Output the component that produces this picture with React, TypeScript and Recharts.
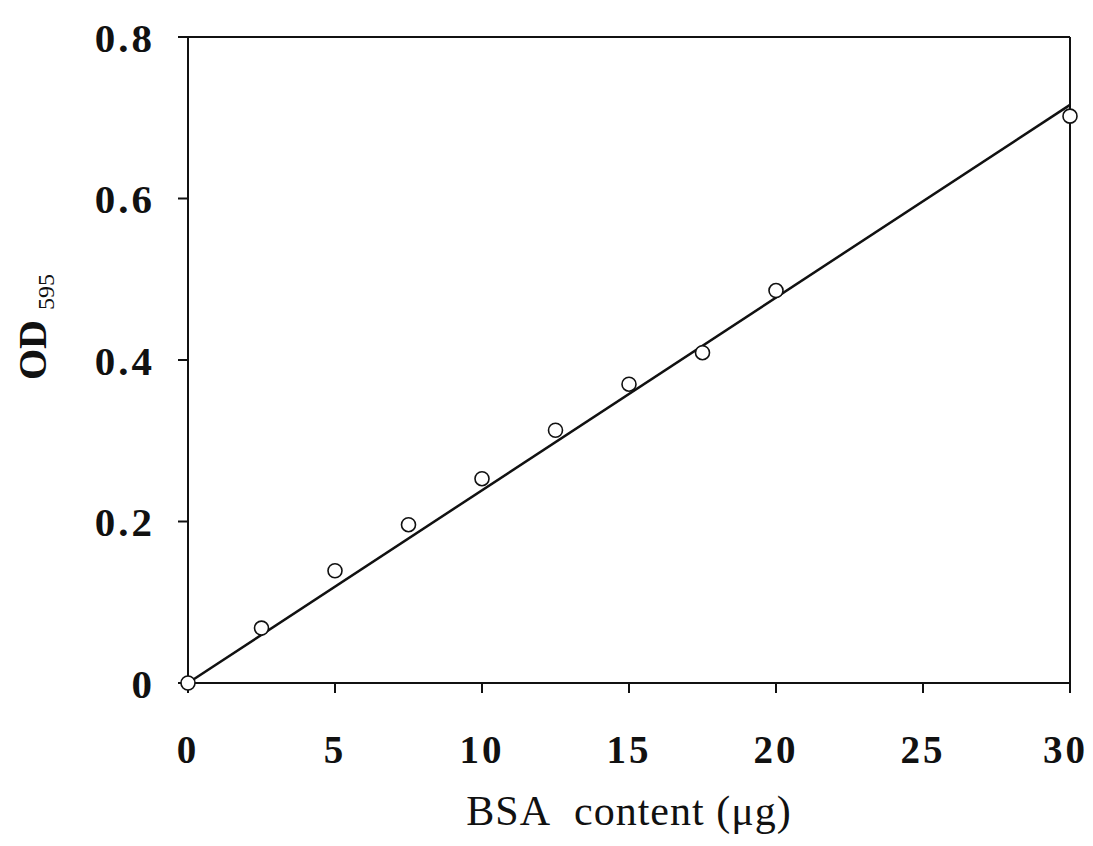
import { ComposedChart, Line, Scatter, XAxis, YAxis, ReferenceLine, Label } from "recharts";

// BSA standard curve (Bradford assay)
const bsaUg = [0, 2.5, 5, 7.5, 10, 12.5, 15, 17.5, 20, 30];
const od595 = [0, 0.068, 0.139, 0.196, 0.253, 0.313, 0.37, 0.409, 0.486, 0.702];

// fitted straight line
const fitX = [0, 30];
const fitY = [0, 0.716];

const xTicks = [0, 5, 10, 15, 20, 25, 30];
const yTicks = [0, 0.2, 0.4, 0.6, 0.8];

const points = bsaUg.map((x, i) => ({ x, y: od595[i] }));
const fitLine = fitX.map((x, i) => ({ x, y: fitY[i] }));

const FONT = "'Liberation Serif', 'Times New Roman', serif";

const OpenCircle = (props: any) => (
  <circle cx={props.cx} cy={props.cy} r={7} fill="#fff" stroke="#111" strokeWidth={1.6} />
);

const YLabel = ({ viewBox }: any) => {
  const x = viewBox.x + 38;
  const y = viewBox.y + viewBox.height / 2 - 33;
  return (
    <text
      x={x}
      y={y}
      transform={`rotate(-90, ${x}, ${y})`}
      textAnchor="middle"
      fontFamily={FONT}
      fontWeight="bold"
      fontSize={40}
      fill="#111"
    >
      OD
      <tspan dx={10} dy={8} fontSize={24} fontWeight="normal">
        595
      </tspan>
    </text>
  );
};

export default function App() {
  return (
    <div style={{ width: 1080, height: 830, background: "#fff" }}>
      <ComposedChart width={1080} height={830} margin={{ top: 29, right: 18, bottom: 0, left: 0 }}>
        <XAxis
          type="number"
          dataKey="x"
          domain={[0, 30]}
          ticks={xTicks}
          height={155}
          axisLine={{ stroke: "#111", strokeWidth: 2 }}
          tickLine={{ stroke: "#111", strokeWidth: 2 }}
          tickSize={10}
          tickMargin={42}
          tick={{ fill: "#111", fontFamily: FONT, fontWeight: "bold", fontSize: 39, letterSpacing: 3 }}
        >
          <Label
            value={"BSA\u00a0 content (μg)"}
            position="insideBottom"
            offset={13}
            style={{ fill: "#111", fontFamily: FONT, fontSize: 42, letterSpacing: 1 }}
          />
        </XAxis>
        <YAxis
          type="number"
          dataKey="y"
          domain={[0, 0.8]}
          ticks={yTicks}
          width={180}
          axisLine={{ stroke: "#111", strokeWidth: 2 }}
          tickLine={{ stroke: "#111", strokeWidth: 2 }}
          tickSize={10}
          tickMargin={23}
          tickFormatter={(v: number) => (v === 0 ? "0" : v.toFixed(1))}
          tick={{ fill: "#111", fontFamily: FONT, fontWeight: "bold", fontSize: 41, letterSpacing: 3 }}
        >
          <Label content={<YLabel />} />
        </YAxis>
        <ReferenceLine y={0.8} stroke="#111" strokeWidth={2} />
        <ReferenceLine x={30} stroke="#111" strokeWidth={2} />
        <Line
          data={fitLine}
          dataKey="y"
          type="linear"
          stroke="#111"
          strokeWidth={2.5}
          dot={false}
          activeDot={false}
          isAnimationActive={false}
        />
        <Scatter data={points} dataKey="y" shape={<OpenCircle />} isAnimationActive={false} />
      </ComposedChart>
    </div>
  );
}
